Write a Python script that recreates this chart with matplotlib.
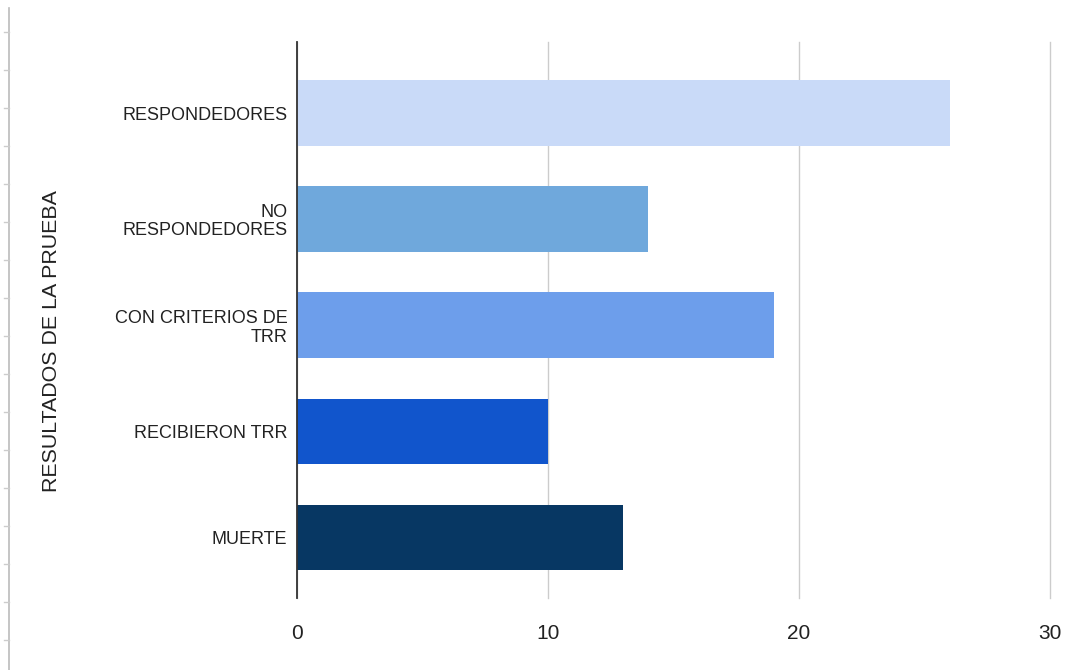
import matplotlib.pyplot as plt
from matplotlib.lines import Line2D

# datos
categorias = ["RESPONDEDORES", "NO\nRESPONDEDORES", "CON CRITERIOS DE\nTRR",
              "RECIBIERON TRR", "MUERTE"]
valores = [26, 14, 19, 10, 13]
colores = ["#c9daf8", "#6fa8dc", "#6d9eeb", "#1155cc", "#073763"]
ticks_x = [0, 10, 20, 30]

plt.rcParams['font.family'] = ['Liberation Sans', 'DejaVu Sans']

fig = plt.figure(figsize=(10.75, 6.7), dpi=100)
ax = fig.add_axes([297/1075, 1-598/670, (1050-297)/1075, (598-42)/670])

pos = list(range(len(categorias)))
ax.barh(pos, valores, height=0.62, color=colores, zorder=3)

ax.set_xlim(0, 30)
ax.set_ylim(4.57, -0.67)
ax.set_xticks(ticks_x)
ax.set_xticklabels([str(t) for t in ticks_x], fontsize=15, color="#222222")
ax.set_yticks(pos)
ax.set_yticklabels(categorias, fontsize=13, color="#222222", linespacing=1.1)
ax.tick_params(axis="both", length=0)
ax.tick_params(axis="y", pad=7)
ax.tick_params(axis="x", pad=19)

ax.grid(axis="x", color="#cccccc", linewidth=1, zorder=0)
for gl in ax.get_xgridlines():
    gl.set_clip_on(False)
for s in ["top", "right", "bottom"]:
    ax.spines[s].set_visible(False)
ax.spines["left"].set_color("#333333")
ax.spines["left"].set_linewidth(1.3)
ax.spines["left"].set_zorder(4)

fig.text(52/1075, 1-341/670, "RESULTADOS DE LA PRUEBA", rotation=90,
         fontsize=15.4, color="#222222", ha="center", va="center")

# borde izquierdo de la hoja (captura)
fig.add_artist(Line2D([9/1075, 9/1075], [0, 1-8/670], color="#bbbbbb", lw=1.2,
                      transform=fig.transFigure))
y = 32
while y < 670:
    fig.add_artist(Line2D([4/1075, 9/1075], [1-y/670, 1-y/670], color="#cccccc", lw=1,
                          transform=fig.transFigure))
    y += 38

fig.savefig("out.png", dpi=100)
